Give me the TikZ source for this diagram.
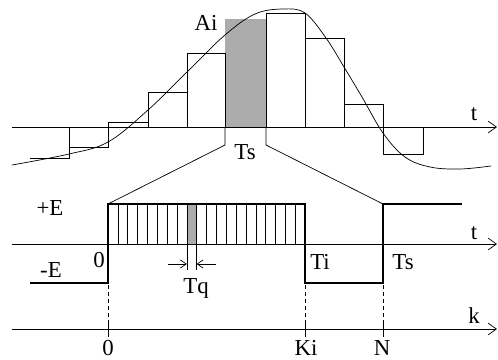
\documentclass[tikz,border=0pt]{standalone}
\usepackage{fontspec}
\setmainfont{Liberation Serif}
\usetikzlibrary{arrows.meta}

\begin{document}
\begin{tikzpicture}[x=0.03cm,y=-0.03cm,
    axis/.style={line width=0.6pt,-{Straight Barb[length=7pt,width=10pt]}},
    bar/.style={line width=0.6pt},
    sig/.style={line width=1.2pt},
    lbl/.style={font=\fontsize{19.5}{22}\selectfont,inner sep=0pt}]
    \useasboundingbox (0,0) rectangle (498,360);

    % Sampled signal
    \fill[gray!65] (225,19) rectangle (266,127);
    \draw[bar] (30,158) -- (69,158) -- (69,127);
    \foreach \xa/\xb/\h in {69/108/147, 108/148/122, 148/187/92, 187/225/53,
                            266/305/13, 305/344/38, 344/383/104, 383/423/154}
        \draw[bar] (\xa,127) -- (\xa,\h) -- (\xb,\h) -- (\xb,127);
    \draw[line width=0.6pt] plot[smooth,tension=0.6] coordinates {(12,165) (69,154) (108,142)
        (148,110) (187,72) (225,35) (255,14) (283,9) (305,13) (326,38) (344,67) (362,97)
        (383,133) (405,157) (430,167) (460,169) (491,166)};
    \draw[axis] (12,127) -- (497,127);
    \node[lbl] (ai) at (206,23) {Ai};
    \node[lbl] (ts1) at (245,152) {Ts};
    \draw[bar] (225,127) -- (225,145) -- (108,204);
    \draw[bar] (266,127) -- (266,145) -- (383,204);

    % PWM signal
    \foreach \i in {1,...,19}
        \draw[line width=0.4pt] (108+\i*9.85,244) -- ++(0,-40);
    \fill[gray!65] (186.8,204) rectangle (196.65,244);
    \draw[line width=0.4pt] (186.8,204) -- (186.8,270);
    \draw[line width=0.4pt] (196.65,204) -- (196.65,270);
    \draw[axis] (12,244) -- (497,244);
    \draw[sig] (30,283) -- (108,283) -- (108,204) -- (305,204) -- (305,283)
        -- (383,283) -- (383,204) -- (462,204);
    \draw[-{Straight Barb[length=5pt,width=7pt]},line width=0.6pt] (168,264) -- (186.8,264);
    \draw[-{Straight Barb[length=5pt,width=7pt]},line width=0.6pt] (216,264) -- (196.65,264);
    \node[lbl] (tq) at (196,288) {Tq};
    \node[lbl] (pe) at (50,208) {+E};
    \node[lbl] (me) at (51,270) {-E};
    \node[lbl] (z1) at (99,260) {0};
    \node[lbl] (ti) at (320,262) {Ti};
    \node[lbl] (ts2) at (403,262) {Ts};
    \node[lbl] (t2) at (474,233) {t};
    \node[lbl] (t1) at (474,114) {t};

    % k axis
    \draw[axis] (12,329) -- (497,329);
    \foreach \x in {108,305,383} {
        \draw[dashed,line width=0.5pt] (\x,285) -- (\x,324);
        \draw[line width=0.6pt] (\x,324) -- (\x,337);
    }
    \node[lbl] (k) at (474,316) {k};
    \node[lbl] (z2) at (108,348) {0};
    \node[lbl] (ki) at (306,348) {Ki};
    \node[lbl] (n) at (382,348) {N};
\end{tikzpicture}
\end{document}
